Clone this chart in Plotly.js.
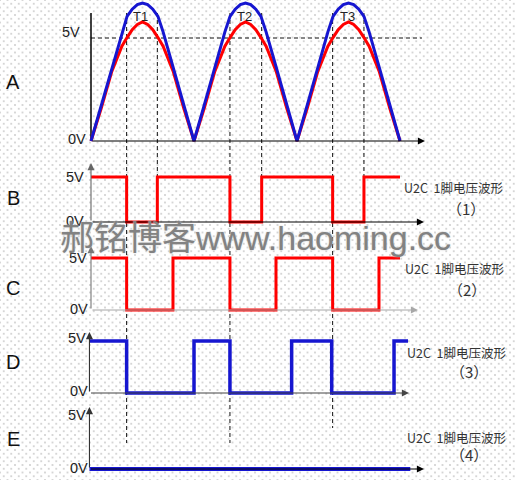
<!DOCTYPE html>
<html>
<head>
<meta charset="utf-8">
<script src="https://cdn.plot.ly/plotly-3.0.1.min.js"></script>
<style>
  html, body { margin: 0; padding: 0; background: #ffffff; overflow: hidden; }
  #chart {
    width: 516px; height: 480px;
    background-color: #ffffff;
    background-image:
      radial-gradient(circle, #c2c2c2 0.55px, rgba(255,255,255,0) 0.9px),
      radial-gradient(circle, #c2c2c2 0.55px, rgba(255,255,255,0) 0.9px);
    background-size: 7.5px 7.5px, 7.5px 7.5px;
    background-position: 0 0, 3.75px 3.75px;
  }
</style>
</head>
<body>
<div id="chart"></div>
<script>
// ---- data -------------------------------------------------------------
// time axis: one rectified half-wave lasts 1 unit
const arcT = [0, 0.1, 0.2, 0.3, 0.35, 0.4, 0.45, 0.5, 0.55, 0.6, 0.65, 0.7, 0.8, 0.9,
              1, 1.1, 1.2, 1.3, 1.35, 1.4, 1.45, 1.5, 1.55, 1.6, 1.65, 1.7, 1.8, 1.9,
              2, 2.1, 2.2, 2.3, 2.35, 2.4, 2.45, 2.5, 2.55, 2.6, 2.65, 2.7, 2.8, 2.9, 3];
// A: rectified waveforms (volts)
const blueArc = [0, 1.75, 3.55, 5.3, 6.05, 6.4, 6.62, 6.7, 6.62, 6.4, 6.05, 5.3, 3.55, 1.75,
                 0, 1.75, 3.55, 5.3, 6.05, 6.4, 6.62, 6.7, 6.62, 6.4, 6.05, 5.3, 3.55, 1.75,
                 0, 1.75, 3.55, 5.3, 6.05, 6.4, 6.62, 6.7, 6.62, 6.4, 6.05, 5.3, 3.55, 1.75, 0];
const redArc  = [0, 1.6, 3.35, 4.6, 5.02, 5.4, 5.66, 5.78, 5.66, 5.4, 5.02, 4.6, 3.35, 1.6,
                 0, 1.6, 3.35, 4.6, 5.02, 5.4, 5.66, 5.78, 5.66, 5.4, 5.02, 4.6, 3.35, 1.6,
                 0, 1.6, 3.35, 4.6, 5.02, 5.4, 5.66, 5.78, 5.66, 5.4, 5.02, 4.6, 3.35, 1.6, 0];
// moments where the red curve crosses 5V (start / end of T1, T2, T3)
const crossT = [0.346, 0.644, 1.349, 1.657, 2.346, 2.65];
const pulseNames = ['T1', 'T2', 'T3'];
const pulseMidT = [0.495, 1.503, 2.498];

// B..E: logic levels (volts) at each edge time
const bT = [0, 0.346, 0.644, 1.349, 1.657, 2.346, 2.65, 3.0];
const bV = [5, 0, 5, 0, 5, 0, 5, 5];
const cT = [0, 0.346, 0.796, 1.349, 1.796, 2.346, 2.796, 3.0];
const cV = [5, 0, 5, 0, 5, 0, 5, 5];
const dT = [-0.015, 0.346, 1.0, 1.349, 1.948, 2.337, 2.942, 3.078];
const dV = [5, 0, 5, 0, 5, 0, 5, 5];
const eT = [-0.015, 3.1];
const eV = [0, 0];

const panelNames = ['A', 'B', 'C', 'D', 'E'];
const levelNames = ['5V', '0V'];
const waveCaption = 'U2C  1脚电压波形';
const waveNumbers = ['（1）', '（2）', '（3）', '（4）'];
const watermark = '郝铭博客www.haoming.cc';

// ---- geometry ---------------------------------------------------------
const W = 516, H = 480;
const X0 = 91, PX_PER_T = 103;              // pixel of t=0, pixels per time unit
const tOf = px => (px - X0) / PX_PER_T;
// pixel rows of 0V and 5V for each strip
const strips = [
  { id: 'y',  y0: 141, y5: 38 },
  { id: 'y2', y0: 222, y5: 177 },
  { id: 'y3', y0: 310, y5: 258 },
  { id: 'y4', y0: 393, y5: 341 },
  { id: 'y5', y0: 469, y5: 416 }
];
const vOf = (s, py) => (s.y0 - py) / ((s.y0 - s.y5) / 5);
const rangeOf = s => { const k = (s.y0 - s.y5) / 5; return [-(H - s.y0) / k, s.y0 / k]; };
const px = x => x / W;
const py = y => 1 - y / H;

const RED = '#ff0000', BLUE = '#1616d0';
const FONT = 'Liberation Sans, Arial, "Noto Sans CJK SC", sans-serif';
const CJK = '"Noto Sans CJK SC", "Liberation Sans", sans-serif';

// ---- traces -----------------------------------------------------------
const traces = [
  { x: arcT, y: redArc,  yaxis: 'y',  mode: 'lines', line: { color: RED,  width: 3 } },
  { x: arcT, y: blueArc, yaxis: 'y',  mode: 'lines', line: { color: BLUE, width: 3 } },
  { x: bT, y: bV, yaxis: 'y2', mode: 'lines', line: { color: RED,  width: 3, shape: 'hv' } },
  { x: cT, y: cV, yaxis: 'y3', mode: 'lines', line: { color: RED,  width: 3, shape: 'hv' } },
  { x: dT, y: dV, yaxis: 'y4', mode: 'lines', line: { color: BLUE, width: 3.5, shape: 'hv' } },
  { x: eT, y: eV, yaxis: 'y5', mode: 'lines', line: { color: BLUE, width: 4, shape: 'hv' } }
].map(t => Object.assign({ xaxis: 'x', hoverinfo: 'skip', showlegend: false }, t));

// ---- shapes: dashed guides and the plain axis of strip A ---------------
const shapes = [];
const guideEnds = [443, 222, 443, 222, 428, 222];
crossT.forEach((t, i) => shapes.push({
  type: 'line', layer: 'below', xref: 'x', yref: 'paper',
  x0: t, x1: t, y0: py(13), y1: py(guideEnds[i]),
  line: { color: '#111', width: 1, dash: '4px,3px' }
}));
shapes.push({
  type: 'line', layer: 'below', xref: 'x', yref: 'y',
  x0: 0, x1: tOf(422), y0: 5, y1: 5,
  line: { color: '#111', width: 1, dash: '4px,3px' }
});
shapes.push({
  type: 'line', layer: 'below', xref: 'x', yref: 'y',
  x0: 0, x1: 0, y0: 0, y1: vOf(strips[0], 13),
  line: { color: '#000', width: 1.5 }
});

// ---- annotations ------------------------------------------------------
const ann = [];
function arrow(yref, x0, y0, x1, y1, color) {
  ann.push({
    xref: 'x', yref: yref, axref: 'x', ayref: yref,
    x: x1, y: y1, ax: x0, ay: y0, text: '', showarrow: true,
    arrowhead: 2, arrowsize: 1.3, arrowwidth: 1.1, arrowcolor: color, standoff: 0
  });
}
// horizontal time axes
arrow('y',  0,      0, tOf(425), 0, '#000');
arrow('y2', 0,      0, tOf(424), 0, '#000');
arrow('y3', 0,      0, tOf(418), 0, '#a8a8a8');
arrow('y4', -0.015, 0, tOf(409), 0, '#444');
arrow('y5', -0.015, 0, tOf(424), 0, '#000');
// vertical voltage axes
arrow('y2', 0,      0, 0,      vOf(strips[1], 163), '#666');
arrow('y3', 0,      0, 0,      vOf(strips[2], 246), '#777');
arrow('y4', -0.015, 0, -0.015, vOf(strips[3], 332), '#333');
arrow('y5', -0.015, 0, -0.015, vOf(strips[4], 407), '#333');

function label(text, x, y, size, color, family, xanchor) {
  ann.push({
    xref: 'paper', yref: 'paper', x: px(x), y: py(y), text: text, showarrow: false,
    xanchor: xanchor || 'center', yanchor: 'middle',
    font: { size: size, color: color || '#1a1a1a', family: family || FONT }
  });
}
// strip letters
const letterRows = [82, 198, 288, 362, 439];
panelNames.forEach((n, i) => label(n, 13, letterRows[i], 20, '#111'));
// level labels (5V, 0V) per strip
const levelPos = [
  [[71, 32], [77, 139]],
  [[75, 177], [75, 221]],
  [[78, 258], [79, 309]],
  [[77, 338], [79, 391]],
  [[77, 415], [79, 468]]
];
levelPos.forEach(p => {
  label(levelNames[0], p[0][0], p[0][1], 14.5, '#222');
  label(levelNames[1], p[1][0], p[1][1], 14.5, '#222');
});
// T1..T3
pulseNames.forEach((n, i) => label(n, X0 + pulseMidT[i] * PX_PER_T - 1, 17, 13, '#222'));
// captions on the right
const capRows = [[188, 208], [268, 289], [352, 371], [437, 454]];
const capX = [402, 403, 405, 405];
capRows.forEach((r, i) => {
  label(waveCaption, capX[i], r[0], 12.5, '#333', CJK, 'left');
  label(waveNumbers[i], capX[i] + 64, r[1], 15, '#333', CJK);
});
// site mark across the middle
ann.push({
  xref: 'paper', yref: 'paper', x: px(255), y: py(238), text: watermark, showarrow: false,
  xanchor: 'center', yanchor: 'middle',
  font: { size: 34, color: '#828282', family: FONT, shadow: '0px 0px 2px #c8c8c8' }
});

// ---- layout -----------------------------------------------------------
const layout = {
  width: W, height: H, autosize: false,
  margin: { l: 0, r: 0, t: 0, b: 0, pad: 0 },
  paper_bgcolor: 'rgba(0,0,0,0)', plot_bgcolor: 'rgba(0,0,0,0)',
  showlegend: false,
  xaxis: { range: [tOf(0), tOf(W)], visible: false, fixedrange: true },
  shapes: shapes, annotations: ann
};
strips.forEach((s, i) => {
  const key = i === 0 ? 'yaxis' : 'yaxis' + (i + 1);
  layout[key] = { range: rangeOf(s), visible: false, fixedrange: true };
  if (i > 0) layout[key].overlaying = 'y';
});

Plotly.newPlot('chart', traces, layout, { staticPlot: true, displayModeBar: false });
</script>
</body>
</html>
